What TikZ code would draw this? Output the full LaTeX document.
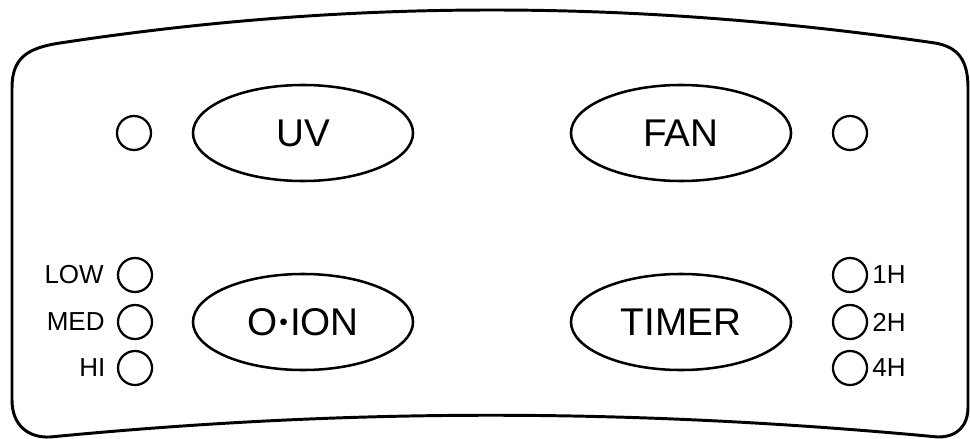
\documentclass[tikz,border=0pt]{standalone}
\usepackage{fontspec}
\setmainfont{Liberation Sans}
\usetikzlibrary{shapes.geometric}
\tikzset{button/.style = {draw, ellipse, line width=1.8pt, inner sep=0pt, minimum width=5.5cm, minimum height=2.4cm, font=\fontsize{27.5}{30}\selectfont},
         led/.style = {draw, circle, line width=1.6pt, inner sep=0pt, minimum size=0.85cm},
         ledtext/.style = {inner sep=0pt, font=\fontsize{18.5}{20}\selectfont}}
\newcommand{\smalldot}{\hspace{1.5pt}\raisebox{3.5pt}{\fontsize{17.5}{17.5}\selectfont •}\hspace{1.5pt}}
\begin{document}
\begin{tikzpicture}[x=0.025cm,y=-0.025cm]
        \useasboundingbox(0,0)rectangle(970,439);
        % panel outline
        \draw[line width=2.1pt](12,400)--(12,88).. controls (12,58) and (27,48) ..(60,43)
            .. controls (350,-1) and (630,-1) ..(935,43).. controls (958,47) and (968,60) ..(968,88)
            --(968,407).. controls (968,425) and (958,437) ..(938,437)
            .. controls (630,408) and (350,408) ..(50,437).. controls (28,438) and (12,425) ..(12,400)--cycle;

        \node[button](uv)at(303,133){UV};
        \node[button](fan)at(681,133){FAN};
        \node[button](oion)at(303,322){O\smalldot ION};
        \node[button](timer)at(681,322){TIMER};

        \node[led](uvled)at(134,133){};
        \node[led](fanled)at(850,133){};

        \node[led](low)at(135,275){};
        \node[led](med)at(135,322){};
        \node[led](hi)at(135,368){};
        \node[ledtext,anchor=east](lowtext)at([xshift=-0.32cm]low.west){LOW};
        \node[ledtext,anchor=east](medtext)at([xshift=-0.3cm]med.west){MED};
        \node[ledtext,anchor=east](hitext)at([xshift=-0.28cm]hi.west){HI};

        \node[led](oneh)at(850,275){};
        \node[led](twoh)at(850,322){};
        \node[led](fourh)at(850,368){};
        \node[ledtext,anchor=west](onehtext)at([xshift=0.1cm]oneh.east){1H};
        \node[ledtext,anchor=west](twohtext)at([xshift=0.1cm]twoh.east){2H};
        \node[ledtext,anchor=west](fourhtext)at([xshift=0.1cm]fourh.east){4H};
    \end{tikzpicture}
\end{document}
